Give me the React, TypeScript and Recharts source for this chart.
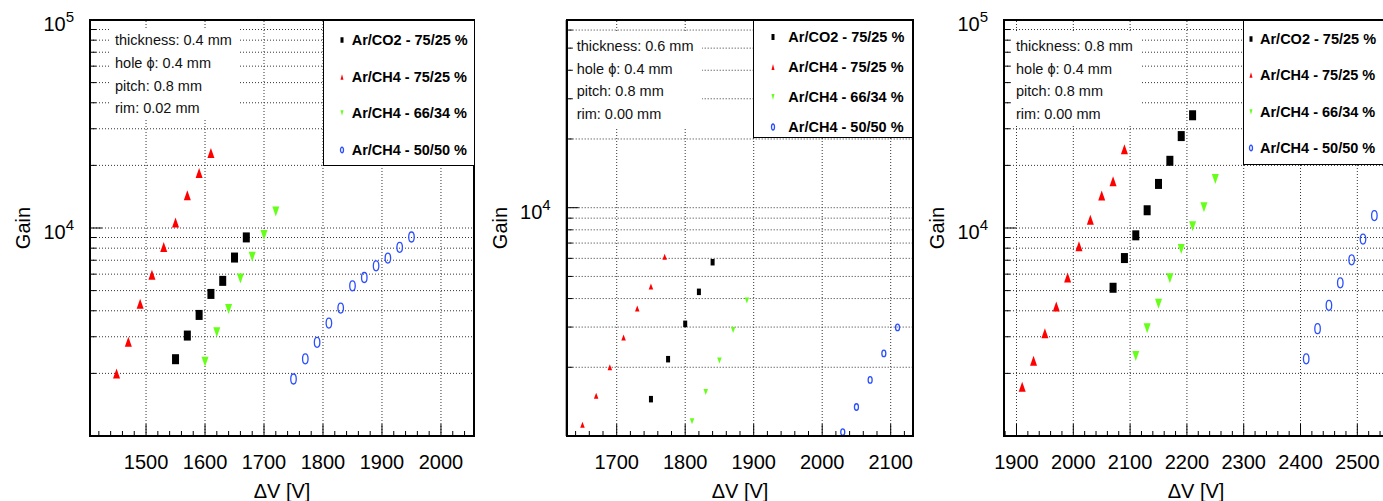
import React from 'react';
import { ScatterChart, Scatter, XAxis, YAxis, CartesianGrid, ReferenceLine } from 'recharts';

const FONT = '"Liberation Sans", Arial, Helvetica, sans-serif';

const gasLabels = ['Ar/CO2 - 75/25 %', 'Ar/CH4 - 75/25 %', 'Ar/CH4 - 66/34 %', 'Ar/CH4 - 50/50 %'];
const gasColors = ['#000000', '#ff0000', '#66ff1a', '#2b4fff'];
const gasShapes = ['square', 'up', 'down', 'ring'];

// [dV (V), gain]

// thickness 0.4 mm, rim 0.02 mm
const t04ArCO2 = [[1550, 2340], [1570, 3040], [1590, 3820], [1610, 4820], [1630, 5570], [1650, 7210], [1670, 9010]];
const t04ArCH4_75 = [[1450, 2000], [1470, 2840], [1490, 4320], [1510, 5960], [1530, 8100], [1550, 10640], [1570, 14350], [1590, 18400], [1610, 22970]];
const t04ArCH4_66 = [[1600, 2275], [1620, 3155], [1640, 4080], [1660, 5720], [1680, 7280], [1700, 9250], [1720, 11990]];
const t04ArCH4_50 = [[1750, 1880], [1770, 2350], [1790, 2820], [1810, 3490], [1830, 4120], [1850, 5270], [1870, 5780], [1890, 6580], [1910, 7170], [1930, 8070], [1950, 9050]];

// thickness 0.6 mm, rim 0.00 mm
const t06ArCO2 = [[1750, 1450], [1775, 2170], [1800, 3100], [1820, 4280], [1840, 5770]];
const t06ArCH4_75 = [[1650, 1120], [1670, 1500], [1690, 2000], [1710, 2700], [1730, 3620], [1750, 4520], [1770, 6100]];
const t06ArCH4_66 = [[1810, 1160], [1830, 1560], [1850, 2140], [1870, 2910], [1890, 3920]];
const t06ArCH4_50 = [[2030, 1040], [2050, 1340], [2070, 1760], [2090, 2300], [2110, 2990]];

// thickness 0.8 mm, rim 0.00 mm
const t08ArCO2 = [[2070, 5160], [2090, 7170], [2110, 9220], [2130, 12170], [2150, 16290], [2170, 21040], [2190, 27660], [2210, 34830]];
const t08ArCH4_75 = [[1910, 1725], [1930, 2300], [1950, 3120], [1970, 4190], [1990, 5780], [2010, 8160], [2030, 10970], [2050, 14330], [2070, 16790], [2090, 23940]];
const t08ArCH4_66 = [[2110, 2425], [2130, 3300], [2150, 4320], [2170, 5740], [2190, 7930], [2210, 10190], [2230, 12580], [2250, 17210]];
const t08ArCH4_50 = [[2410, 2350], [2430, 3280], [2450, 4250], [2470, 5450], [2490, 7030], [2510, 8850], [2530, 11470]];

const info04 = ['thickness: 0.4 mm', 'hole ϕ: 0.4 mm', 'pitch: 0.8 mm', 'rim: 0.02 mm'];
const info06 = ['thickness: 0.6 mm', 'hole ϕ: 0.4 mm', 'pitch: 0.8 mm', 'rim: 0.00 mm'];
const info08 = ['thickness: 0.8 mm', 'hole ϕ: 0.4 mm', 'pitch: 0.8 mm', 'rim: 0.00 mm'];

const xMajor04 = [1500, 1600, 1700, 1800, 1900, 2000];
const xMajor06 = [1700, 1800, 1900, 2000, 2100];
const xMajor08 = [1900, 2000, 2100, 2200, 2300, 2400, 2500];

const yMinorLow = [2000, 3000, 4000, 5000, 6000, 7000, 8000, 9000];
const yMinorHigh = [20000, 30000, 40000, 50000, 60000, 70000, 80000, 90000];
const yDecades = [10000, 100000];

function range(a: number, b: number, step: number) {
    const out: number[] = [];
    for (let v = a; v <= b + 1e-9; v += step) out.push(v);
    return out;
}

const big = { square: [7, 10], up: [7, 10], down: [7, 10], ring: [5.5, 10] };
const small = { square: [4, 6.5], up: [4.5, 6], down: [4.5, 6], ring: [4, 6.5] };

// eslint-disable-next-line @typescript-eslint/no-explicit-any
function Glyph({ kind, color, cx, cy, w, h }: any) {
    if (kind === 'square') return <rect x={cx - w / 2} y={cy - h / 2} width={w} height={h} fill={color} />;
    if (kind === 'up') return <polygon points={`${cx},${cy - h / 2} ${cx + w / 2},${cy + h / 2} ${cx - w / 2},${cy + h / 2}`} fill={color} />;
    if (kind === 'down') return <polygon points={`${cx - w / 2},${cy - h / 2} ${cx + w / 2},${cy - h / 2} ${cx},${cy + h / 2}`} fill={color} />;
    return <ellipse cx={cx} cy={cy} rx={w / 2} ry={h / 2} fill="none" stroke={color} strokeWidth={1.3} />;
}

function shapeFor(kind: string, color: string, size: number[]) {
    // eslint-disable-next-line @typescript-eslint/no-explicit-any
    return (props: any) => {
        const { cx, cy } = props;
        if (cx == null || cy == null) return <g />;
        return <Glyph kind={kind} color={color} cx={cx} cy={cy} w={size[0]} h={size[1]} />;
    };
}

// eslint-disable-next-line @typescript-eslint/no-explicit-any
function XTick({ x, y, payload, majors }: any) {
    const major = majors.includes(payload.value);
    return (
        <g>
            <line x1={x} x2={x} y1={y} y2={y - (major ? 12 : 5)} stroke="#000" strokeWidth={1} />
            {major && (
                <text x={x} y={y + 33} textAnchor="middle" fontSize={20} fontFamily={FONT} fill="#000">
                    {payload.value}
                </text>
            )}
        </g>
    );
}

// eslint-disable-next-line @typescript-eslint/no-explicit-any
function YTick({ x, y, payload }: any) {
    const major = yDecades.includes(payload.value);
    return (
        <g>
            <line x1={x} x2={x + (major ? 12 : 6)} y1={y} y2={y} stroke="#000" strokeWidth={1} />
            {major && (
                <text x={x - 16} y={y + 11} textAnchor="end" fontSize={20} fontFamily={FONT} fill="#000">
                    10<tspan dy={-9} fontSize={15}>{Math.round(Math.log10(payload.value))}</tspan>
                </text>
            )}
        </g>
    );
}

const panels = [
    {
        left: 0, width: 480,
        margin: { top: 20, right: 6, bottom: 65, left: 90 },
        xDomain: [1405, 2056], xMajor: xMajor04, xMinor: range(1420, 2040, 20),
        yDomain: [1000, 100000], yTicks: [...yMinorLow, 10000, ...yMinorHigh, 100000],
        series: [t04ArCO2, t04ArCH4_75, t04ArCH4_66, t04ArCH4_50], size: big,
        info: info04, infoBox: { left: 111, top: 28, width: 127, height: 92, textLeft: 115, first: 40, step: 22.8 },
        legend: { left: 322.7, top: 20, width: 152, height: 145.7, first: 20, step: 36.7, mark: 19, text: 29, msize: [3, 5.5] },
    },
    {
        left: 480, width: 440,
        margin: { top: 20, right: 6.7, bottom: 65, left: 86.7 },
        xDomain: [1627, 2133], xMajor: xMajor06, xMinor: range(1640, 2120, 20),
        yDomain: [1000, 66400], yTicks: [...yMinorLow, 10000, 20000, 30000, 40000, 50000, 60000],
        series: [t06ArCO2, t06ArCH4_75, t06ArCH4_66, t06ArCH4_50], size: small,
        info: info06, infoBox: { left: 573, top: 33, width: 129, height: 94, textLeft: 576.7, first: 46, step: 22.7 },
        legend: { left: 753.3, top: 20, width: 160, height: 118.3, first: 16.7, step: 30, mark: 20, text: 35, msize: [3, 6] },
    },
    {
        left: 920, width: 480,
        margin: { top: 20, right: 12, bottom: 65, left: 84 },
        xDomain: [1878, 2554], xMajor: xMajor08, xMinor: range(1880, 2540, 20),
        yDomain: [1000, 100000], yTicks: [...yMinorLow, 10000, ...yMinorHigh, 100000],
        series: [t08ArCO2, t08ArCH4_75, t08ArCH4_66, t08ArCH4_50], size: big,
        info: info08, infoBox: { left: 1012, top: 32, width: 128, height: 94, textLeft: 1016, first: 45.7, step: 22.8 },
        legend: { left: 1243.3, top: 20, width: 160, height: 145, first: 19.3, step: 36.1, mark: 8, text: 16.7, msize: [3, 5.5] },
    },
];

const HEIGHT = 501;

// eslint-disable-next-line @typescript-eslint/no-explicit-any
function Panel({ p }: { p: any }) {
    const plotLeft = p.left + p.margin.left;
    const plotTop = p.margin.top;
    const plotW = p.width - p.margin.left - p.margin.right;
    const plotH = HEIGHT - p.margin.top - p.margin.bottom;
    // axes are 1px thick boxes (zero-size axes are not drawn), so take that out of the margins
    const chartMargin = { ...p.margin, left: p.margin.left - 1, bottom: p.margin.bottom - 1 };
    return (
        <>
            <div style={{ position: 'absolute', left: p.left, top: 0 }}>
                <ScatterChart width={p.width} height={HEIGHT} margin={chartMargin}>
                    <CartesianGrid vertical={false} stroke="#333" strokeDasharray="1 2" />
                    {p.xMajor.map((v: number) => (
                        <ReferenceLine key={v} x={v} stroke="#333" strokeDasharray="1 2" />
                    ))}
                    <XAxis
                        type="number"
                        dataKey="v"
                        domain={p.xDomain}
                        allowDataOverflow
                        ticks={p.xMinor}
                        interval={0}
                        height={1}
                        tickSize={0}
                        tickMargin={0}
                        axisLine={{ stroke: '#000', strokeWidth: 2 }}
                        tick={<XTick majors={p.xMajor} />}
                    />
                    <YAxis
                        type="number"
                        dataKey="g"
                        scale="log"
                        domain={p.yDomain}
                        allowDataOverflow
                        ticks={p.yTicks}
                        interval={0}
                        width={1}
                        tickSize={0}
                        tickMargin={0}
                        axisLine={{ stroke: '#000', strokeWidth: 2 }}
                        tick={<YTick />}
                    />
                    {p.series.map((pts: number[][], i: number) => (
                        <Scatter
                            key={gasLabels[i]}
                            name={gasLabels[i]}
                            data={pts.map(([v, g]) => ({ v, g }))}
                            fill={gasColors[i]}
                            shape={shapeFor(gasShapes[i], gasColors[i], p.size[gasShapes[i]])}
                            isAnimationActive={false}
                        />
                    ))}
                </ScatterChart>
            </div>
            {/* frame */}
            <div style={{
                position: 'absolute', left: plotLeft - 1, top: plotTop - 1, width: plotW + 2, height: plotH + 2,
                border: '2px solid #000', boxSizing: 'border-box', pointerEvents: 'none',
            }} />
            {/* geometry box */}
            <div style={{
                position: 'absolute', left: p.infoBox.left, top: p.infoBox.top,
                width: p.infoBox.width, height: p.infoBox.height, background: '#fff',
            }} />
            {p.info.map((t: string, i: number) => (
                <div key={t} style={{
                    position: 'absolute', left: p.infoBox.textLeft, top: p.infoBox.first + i * p.infoBox.step - 10,
                    height: 20, lineHeight: '20px', fontFamily: FONT, fontSize: 14.5, color: '#111', whiteSpace: 'nowrap',
                }}>{t}</div>
            ))}
            {/* legend */}
            <div style={{
                position: 'absolute', left: p.legend.left, top: p.legend.top, width: p.legend.width, height: p.legend.height,
                background: '#fff', border: '1.5px solid #000', boxSizing: 'border-box',
            }} />
            {gasLabels.map((name, i) => {
                const cy = p.legend.top + p.legend.first + i * p.legend.step;
                return (
                    <React.Fragment key={name}>
                        <svg style={{ position: 'absolute', left: p.legend.left + p.legend.mark - 5, top: cy - 6 }} width={10} height={12}>
                            <Glyph kind={gasShapes[i]} color={gasColors[i]} cx={5} cy={6} w={p.legend.msize[0]} h={p.legend.msize[1]} />
                        </svg>
                        <div style={{
                            position: 'absolute', left: p.legend.left + p.legend.text, top: cy - 10, height: 20, lineHeight: '20px',
                            fontFamily: FONT, fontSize: 14.5, fontWeight: 700, color: '#000', whiteSpace: 'nowrap',
                        }}>{name}</div>
                    </React.Fragment>
                );
            })}
            {/* axis titles */}
            <svg style={{ position: 'absolute', left: 0, top: 0, pointerEvents: 'none' }} width={1400} height={HEIGHT}>
                <text x={plotLeft + plotW / 2} y={498} textAnchor="middle" fontSize={20} fontFamily={FONT} fill="#000">ΔV [V]</text>
                <text
                    x={plotLeft - 67} y={plotTop + plotH / 2}
                    transform={`rotate(-90 ${plotLeft - 67} ${plotTop + plotH / 2})`}
                    textAnchor="middle" dominantBaseline="central" fontSize={20} fontFamily={FONT} fill="#000"
                >Gain</text>
            </svg>
        </>
    );
}

export default function App() {
    return (
        <div style={{ position: 'fixed', left: 0, top: 0, width: 1383, height: HEIGHT, overflow: 'hidden', background: '#fff' }}>
            {panels.map((p, i) => <Panel key={i} p={p} />)}
        </div>
    );
}
